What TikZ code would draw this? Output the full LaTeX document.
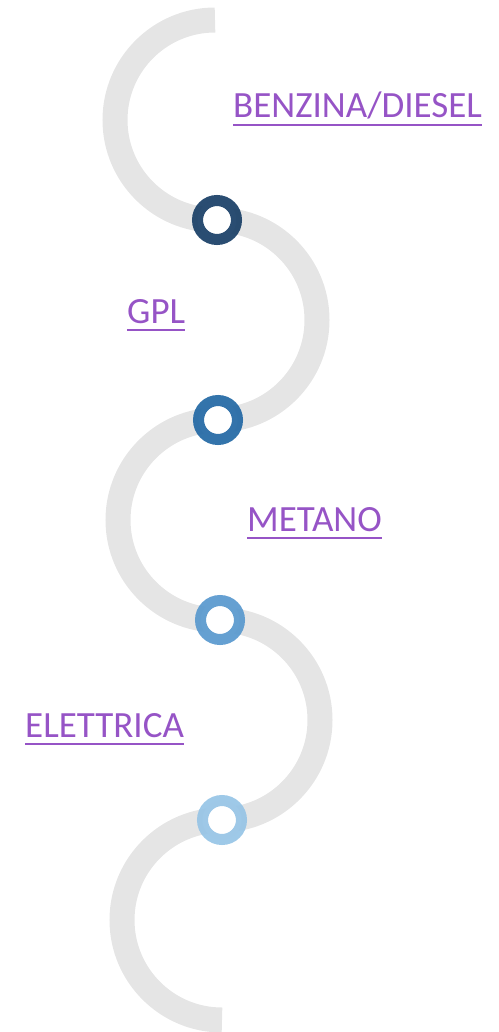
\documentclass[tikz,border=0pt]{standalone}
\usepackage{fontspec}
\setmainfont{Carlito}
\usepackage{tikz}
\definecolor{GrigioStrada}{RGB}{229,229,229}
\definecolor{ViolaLink}{RGB}{150,84,198}
\definecolor{BluNotte}{RGB}{24,62,102}
\definecolor{BluMedio}{RGB}{34,104,164}
\definecolor{BluChiaro}{RGB}{88,152,206}
\definecolor{BluCielo}{RGB}{150,196,230}

\begin{document}
\begin{tikzpicture}[x=1pt,y=1pt,
    strada/.style={line width=25pt,GrigioStrada},
    tappa/.style={circle,draw=#1,draw opacity=0.92,line width=11pt,fill=white,minimum size=39pt,inner sep=0pt},
    voce/.style={anchor=base west,inner sep=0pt,text=ViolaLink,font=\fontsize{37}{44}\selectfont},
    sottolineato/.style={line width=2.5pt,ViolaLink}]
  \useasboundingbox (0,0) rectangle (498,-1032);

  \coordinate (inizio) at (215,-20);
  \coordinate (p1) at (217,-220);
  \coordinate (p2) at (218,-420);
  \coordinate (p3) at (220,-620);
  \coordinate (p4) at (222,-820);

  % percorso a serpentina
  \draw[strada] (inizio) arc[start angle=90,end angle=270,radius=100];
  \draw[strada] (p1) arc[start angle=90,end angle=-90,radius=100];
  \draw[strada] (p2) arc[start angle=90,end angle=270,radius=100];
  \draw[strada] (p3) arc[start angle=90,end angle=-90,radius=100];
  \draw[strada] (p4) arc[start angle=90,end angle=270,radius=100];

  \node[tappa=BluNotte] (t1) at (p1) {};
  \node[tappa=BluMedio] (t2) at (p2) {};
  \node[tappa=BluChiaro] (t3) at (p3) {};
  \node[tappa=BluCielo] (t4) at (p4) {};

  \node[voce] (benzina) at (233,-118) {BENZINA/DIESEL};
  \node[voce] (gpl) at (127,-323) {GPL};
  \node[voce] (metano) at (247,-531) {METANO};
  \node[voce] (elettrica) at (25,-737) {ELETTRICA};

  \foreach \v in {benzina,gpl,metano,elettrica}
    \draw[sottolineato] ([yshift=-7pt]\v.base west) -- ([yshift=-7pt]\v.base east);
\end{tikzpicture}
\end{document}
